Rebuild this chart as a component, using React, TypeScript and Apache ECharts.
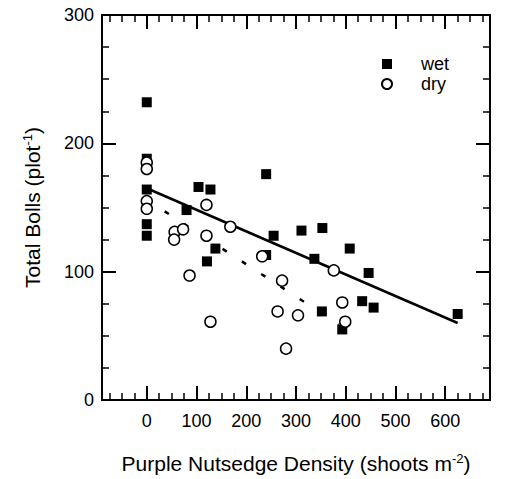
import React, { useEffect, useRef } from "react";
import * as echarts from "echarts";

const wetX = [0, 0, 0, 0, 0, 80, 104, 128, 121, 138, 240, 240, 255, 311, 337, 353, 352, 393, 408, 433, 446, 456, 625];
const wetY = [232, 188, 164, 137, 128, 148, 166, 164, 108, 118, 176, 113, 128, 132, 110, 134, 69, 55, 118, 77, 99, 72, 67];
const dryX = [0, 0, 0, 0, 56, 55, 73, 86, 120, 120, 128, 168, 232, 263, 272, 280, 304, 376, 393, 399];
const dryY = [185, 180, 155, 149, 131, 125, 133, 97, 152, 128, 61, 135, 112, 69, 93, 40, 66, 101, 76, 61];
const wetFitX = [0, 625];
const wetFitY = [165, 60];
const dryFitX = [36, 386];
const dryFitY = [147, 59];
const xMajorTicks = [0, 100, 200, 300, 400, 500, 600];
const xMinorTicks = [-75, -50, -25, 25, 50, 75, 125, 150, 175, 225, 250, 275, 325, 350, 375, 425, 450, 475, 525, 550, 575, 625, 650, 675];

const FONT = "'Liberation Sans', Arial, sans-serif";

function pairs(xs: number[], ys: number[]) {
  return xs.map((x, i) => [x, ys[i]]);
}

export default function App() {
  const ref = useRef<HTMLDivElement>(null);
  useEffect(() => {
    if (!ref.current) return;
    const chart = echarts.init(ref.current, null, { renderer: "svg" });
    const xBase = {
      type: "value",
      min: -90,
      max: 690,
      gridIndex: 0,
      splitLine: { show: false },
      axisLine: { show: true, onZero: false, lineStyle: { color: "#000", width: 2 } },
    };
    const majorTick = { show: true, inside: true, length: 14, lineStyle: { color: "#000", width: 2 } };
    const minorTickStyle = { show: true, inside: true, length: 7, lineStyle: { color: "#000", width: 1.5 } };
    const option: any = {
      animation: false,
      textStyle: { fontFamily: FONT, color: "#000" },
      grid: { left: 102, right: 15, top: 15, bottom: 76, containLabel: false },
      legend: {
        orient: "vertical",
        left: 381,
        top: 55,
        padding: 0,
        itemGap: 2,
        itemWidth: 10,
        itemHeight: 10,
        textStyle: { fontFamily: FONT, fontSize: 18, color: "#000", padding: [0, 0, 0, 24] },
        data: [
          { name: "wet", icon: "rect" },
          { name: "dry", icon: "circle" },
        ],
      },
      xAxis: [
        {
          ...xBase,
          position: "bottom",
          name: "Purple Nutsedge Density (shoots m{sup|-2})",
          nameLocation: "middle",
          nameGap: 52,
          nameTextStyle: {
            fontFamily: FONT,
            fontSize: 21,
            color: "#000",
            rich: { sup: { fontFamily: FONT, fontSize: 13, color: "#000", padding: [0, 0, 10, 0] } },
          },
          axisTick: { ...majorTick, customValues: xMajorTicks },
          axisLabel: { customValues: xMajorTicks, fontFamily: FONT, fontSize: 18, color: "#000", margin: 12 },
        },
        {
          ...xBase,
          position: "bottom",
          axisTick: { ...minorTickStyle, customValues: xMinorTicks },
          axisLabel: { show: false },
        },
        {
          ...xBase,
          position: "top",
          axisTick: { ...majorTick, customValues: xMajorTicks },
          axisLabel: { show: false },
        },
        {
          ...xBase,
          position: "top",
          axisTick: { ...minorTickStyle, customValues: xMinorTicks },
          axisLabel: { show: false },
        },
      ],
      yAxis: [
        {
          type: "value",
          min: 0,
          max: 300,
          interval: 100,
          position: "left",
          name: "Total Bolls (plot{sup|-1})",
          nameLocation: "middle",
          nameGap: 58,
          nameTextStyle: {
            fontFamily: FONT,
            fontSize: 21,
            color: "#000",
            rich: { sup: { fontFamily: FONT, fontSize: 13, color: "#000", padding: [0, 0, 10, 0] } },
          },
          splitLine: { show: false },
          axisLine: { show: true, onZero: false, lineStyle: { color: "#000", width: 2 } },
          axisTick: majorTick,
          minorTick: { show: true, splitNumber: 4, length: 7, lineStyle: { color: "#000", width: 1.5 } },
          axisLabel: { fontFamily: FONT, fontSize: 18, color: "#000", margin: 8 },
        },
        {
          type: "value",
          min: 0,
          max: 300,
          interval: 100,
          position: "right",
          splitLine: { show: false },
          axisLine: { show: true, onZero: false, lineStyle: { color: "#000", width: 2 } },
          axisTick: majorTick,
          minorTick: { show: true, splitNumber: 4, length: 7, lineStyle: { color: "#000", width: 1.5 } },
          axisLabel: { show: false },
        },
      ],
      series: [
        {
          name: "wetFit",
          type: "line",
          data: pairs(wetFitX, wetFitY),
          symbol: "none",
          lineStyle: { color: "#000", width: 2.5 },
          silent: true,
          z: 1,
        },
        {
          name: "dryFit",
          type: "line",
          data: pairs(dryFitX, dryFitY),
          symbol: "none",
          lineStyle: { color: "#000", width: 2.5, type: [5, 18] },
          silent: true,
          z: 1,
        },
        {
          name: "wet",
          type: "scatter",
          data: pairs(wetX, wetY),
          symbol: "rect",
          symbolSize: 10,
          itemStyle: { color: "#000", opacity: 1 },
          z: 2,
        },
        {
          name: "dry",
          type: "scatter",
          data: pairs(dryX, dryY),
          symbol: "circle",
          symbolSize: 11,
          itemStyle: { color: "#fff", borderColor: "#000", borderWidth: 1.5, opacity: 1 },
          z: 3,
        },
      ],
    };
    chart.setOption(option);
    return () => chart.dispose();
  }, []);
  return (
    <div
      ref={ref}
      style={{ position: "absolute", left: 0, top: 0, width: 505, height: 479, background: "#fff" }}
    />
  );
}
